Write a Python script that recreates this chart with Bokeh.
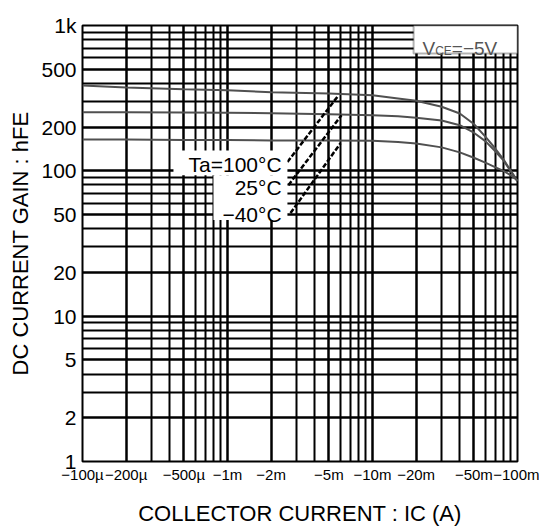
from bokeh.plotting import figure
from bokeh.models import FixedTicker, BoxAnnotation, Label
from bokeh.embed import file_html
from bokeh.resources import INLINE

# ---- data (collector current in A, shown as negative values) ----
IC = [1e-4, 2e-4, 5e-4, 1e-3, 2e-3, 5e-3, 1e-2, 1.5e-2, 2e-2, 3e-2, 4e-2, 5e-2, 6e-2, 7e-2, 8e-2, 9e-2, 1e-1]
HFE_100C = [387, 375, 364, 358, 347, 341, 331, 315, 304, 276, 248, 210, 172, 143, 120, 100, 85]
HFE_25C = [253, 253, 252, 251, 249, 245, 241, 237, 232, 222, 206, 183, 160, 137, 118, 99, 85]
HFE_M40C = [164, 164, 163, 163, 162, 162, 161, 158, 154, 145, 134, 123, 114, 106, 100, 93, 86]

X_TICKS = [1e-4, 2e-4, 5e-4, 1e-3, 2e-3, 5e-3, 1e-2, 2e-2, 5e-2, 1e-1]
X_LABELS = ["\u2212100\u00b5", "\u2212200\u00b5", "\u2212500\u00b5", "\u22121m", "\u22122m",
            "\u22125m", "\u221210m", "\u221220m", "\u221250m", "\u2212100m"]
Y_TICKS = [1, 2, 5, 10, 20, 50, 100, 200, 500, 1000]
Y_LABELS = ["1", "2", "5", "10", "20", "50", "100", "200", "500", "1k"]

SERIES_LABELS = ["Ta=100\u00b0C", "25\u00b0C", "\u221240\u00b0C"]
# label anchor (right end) and leader lines, data coordinates
LABEL_X = [2.36e-3, 2.36e-3, 2.36e-3]
LABEL_Y = [111, 77.3, 50.4]
LEAD_X0 = [2.59e-3, 2.63e-3, 2.72e-3]
LEAD_Y0 = [115, 79.7, 51.2]
LEAD_X1 = [5.83e-3, 6.11e-3, 6.02e-3]
LEAD_Y1 = [331, 241, 155]

X_TITLE = "COLLECTOR CURRENT : IC (A)"
Y_TITLE = "DC CURRENT GAIN : hFE"

FONT = "Liberation Sans"

p = figure(width=539, height=528, x_axis_type="log", y_axis_type="log",
           x_range=(1e-4, 1e-1), y_range=(1, 1000), title=None,
           output_backend="svg", toolbar_location=None,
           min_border_left=82, min_border_right=22, min_border_top=25, min_border_bottom=66)
p.background_fill_color = "white"
p.border_fill_color = "white"
p.outline_line_color = "black"
p.outline_line_width = 2

x_minor = [m * 10.0 ** e for e in (-4, -3, -2) for m in range(1, 10)] + [1e-1]
y_minor = [m * 10.0 ** e for e in (0, 1, 2) for m in range(1, 10)] + [1000]

p.xaxis.ticker = FixedTicker(ticks=X_TICKS, minor_ticks=x_minor)
p.yaxis.ticker = FixedTicker(ticks=Y_TICKS, minor_ticks=y_minor)
p.xaxis.major_label_overrides = dict(zip(X_TICKS, X_LABELS))
p.yaxis.major_label_overrides = dict(zip(Y_TICKS, Y_LABELS))

for ax in (p.xaxis, p.yaxis):
    ax.axis_line_color = None
    ax.major_tick_line_color = None
    ax.minor_tick_line_color = None
    ax.axis_label_text_font = FONT
    ax.axis_label_text_font_style = "normal"
    ax.axis_label_text_color = "black"
    ax.major_label_text_color = "black"

p.xaxis.major_tick_out = 0
p.xaxis.minor_tick_out = 0
p.xaxis.major_label_text_font = FONT
p.xaxis.major_label_text_font_size = "15px"
p.xaxis.major_label_standoff = 4
p.xaxis.axis_label = X_TITLE
p.xaxis.axis_label_text_font_size = "22px"
p.xaxis.axis_label_standoff = 15

p.yaxis.major_label_text_font = FONT
p.yaxis.major_label_text_font_size = "21px"
p.yaxis.major_label_standoff = 0
p.yaxis.axis_label = Y_TITLE
p.yaxis.axis_label_text_font_size = "22px"
p.yaxis.axis_label_standoff = 5

for g in (p.xgrid, p.ygrid):
    g.grid_line_color = "black"
    g.grid_line_width = 2
    g.minor_grid_line_color = "black"
    g.minor_grid_line_width = 2

for ys in (HFE_100C, HFE_25C, HFE_M40C):
    p.line(IC, ys, line_color="#505050", line_width=2)

# white patches behind the series labels
p.add_layout(BoxAnnotation(left=4.24e-4, right=2.59e-3, bottom=93.3, top=138,
                           fill_color="white", fill_alpha=1, line_color=None))
p.add_layout(BoxAnnotation(left=8.0e-4, right=2.59e-3, bottom=45.8, top=93.3,
                           fill_color="white", fill_alpha=1, line_color=None))

p.segment(x0=LEAD_X0, y0=LEAD_Y0, x1=LEAD_X1, y1=LEAD_Y1,
          line_color="black", line_width=2.5, line_dash="5 2")

for lx, ly, txt in zip(LABEL_X, LABEL_Y, SERIES_LABELS):
    p.add_layout(Label(x=lx, y=ly, text=txt, text_align="right", text_baseline="middle",
                       text_font=FONT, text_font_size="21px", text_color="black"))

# condition box
p.add_layout(BoxAnnotation(left=0.0192, right=1e-1, bottom=642, top=1000,
                           fill_color="white", fill_alpha=1, line_color="black", line_width=2))
p.add_layout(Label(x=0.0221, y=695, text="V", text_baseline="alphabetic",
                   text_font=FONT, text_font_size="19px", text_color="#555555"))
p.add_layout(Label(x=0.0221, y=695, x_offset=12.7, y_offset=-3, text="CE", text_baseline="alphabetic",
                   text_font=FONT, text_font_size="12px", text_color="#555555"))
p.add_layout(Label(x=0.0221, y=695, x_offset=29.4, text="=\u22125V", text_baseline="alphabetic",
                   text_font=FONT, text_font_size="19px", text_color="#555555"))

open("out.html", "w").write(file_html(p, INLINE))
